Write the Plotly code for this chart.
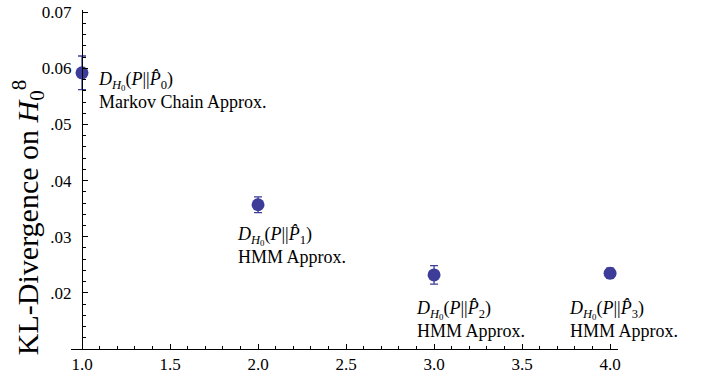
import plotly.graph_objects as go

# ---- data ----
approx_order = [1, 2, 3, 4]
kl_divergence = [0.0592, 0.0357, 0.0232, 0.0235]
kl_error = [0.0030, 0.0014, 0.00165, 0.0009]
formula_labels = [
    "<i>D</i><sub><i>H</i><sub>0</sub></sub>(<i>P</i>||<i>P\u0302</i><sub>0</sub>)",
    "<i>D</i><sub><i>H</i><sub>0</sub></sub>(<i>P</i>||<i>P\u0302</i><sub>1</sub>)",
    "<i>D</i><sub><i>H</i><sub>0</sub></sub>(<i>P</i>||<i>P\u0302</i><sub>2</sub>)",
    "<i>D</i><sub><i>H</i><sub>0</sub></sub>(<i>P</i>||<i>P\u0302</i><sub>3</sub>)",
]
method_labels = ["Markov Chain Approx.", "HMM Approx.", "HMM Approx.", "HMM Approx."]
x_ticks = [1.0, 1.5, 2.0, 2.5, 3.0, 3.5, 4.0]
y_ticks = [0.02, 0.03, 0.04, 0.05, 0.06, 0.07]

# label placement offsets (pixels)
label_xshift = [14, -23, -20, -43]
label_yshift = [6, -17, -21, -23]

BLUE = "rgb(61,61,153)"
FONT = "Liberation Serif, Times New Roman, serif"

fig = go.Figure()
fig.add_trace(go.Scatter(
    x=approx_order, y=kl_divergence, mode="markers",
    marker=dict(size=13, color=BLUE),
    error_y=dict(type="data", array=kl_error, color=BLUE, thickness=1.3, width=4),
    showlegend=False, hoverinfo="skip", cliponaxis=False,
))

for i in range(len(approx_order)):
    fig.add_annotation(
        x=approx_order[i], y=kl_divergence[i], xref="x", yref="y",
        text=formula_labels[i] + "<br>" + method_labels[i],
        showarrow=False, xanchor="left", yanchor="top", align="left",
        xshift=label_xshift[i], yshift=label_yshift[i],
        font=dict(family=FONT, size=18, color="black"),
    )

x_range = [0.9375, 4.045]
y_range = [0.01, 0.0704]

fig.add_annotation(
    x=-0.078, y=0.387, xref="paper", yref="paper",
    text="KL-Divergence on <i>H</i><sub>0</sub><sup>8</sup>",
    textangle=-90, showarrow=False, xanchor="center", yanchor="middle",
    bgcolor="white", borderpad=1,
    font=dict(family=FONT, size=30, color="black"),
)

fig.update_layout(
    width=705, height=382,
    margin=dict(l=71, r=87, t=10, b=33),
    paper_bgcolor="white", plot_bgcolor="white",
    font=dict(family=FONT, size=17, color="black"),
    xaxis=dict(
        range=x_range, tickvals=x_ticks, tickformat=".1f", automargin=False,
        showline=True, linecolor="black", linewidth=1,
        ticks="inside", ticklen=5, tickcolor="black",
        minor=dict(dtick=0.1, ticks="inside", ticklen=3, tickcolor="black"),
        showgrid=False, zeroline=False,
        tickfont=dict(family=FONT, size=17),
    ),
    yaxis=dict(
        range=y_range, tickvals=y_ticks, tickformat=".2f", automargin=False,
        anchor="free", position=(1 - x_range[0]) / (x_range[1] - x_range[0]),
        showline=True, linecolor="black", linewidth=1,
        ticks="inside", ticklen=5, tickcolor="black",
        minor=dict(dtick=0.002, ticks="inside", ticklen=3, tickcolor="black"),
        showgrid=False, zeroline=False, ticklabelstandoff=7,
        ticklabeloverflow="allow",
        tickfont=dict(family=FONT, size=17),
    ),
)

fig.write_html(
    "out.html",
    config={"displayModeBar": False},
    post_script="document.body.style.margin='0';document.body.style.overflow='hidden';",
)
